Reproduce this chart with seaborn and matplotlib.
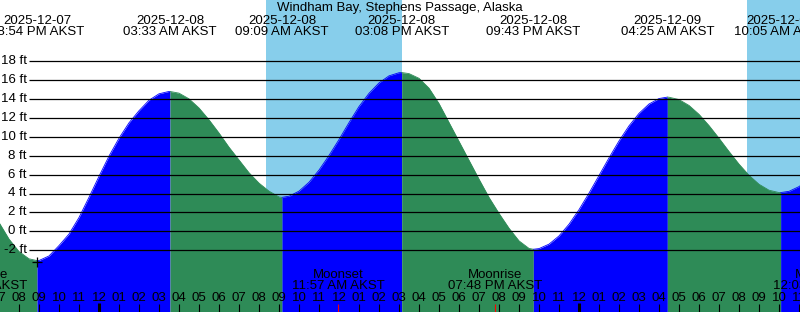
import numpy as np
import pandas as pd
import matplotlib
matplotlib.use("Agg")
import matplotlib.pyplot as plt
import seaborn as sns
from matplotlib.transforms import blended_transform_factory as btf

# ---------------- data (hours since 2025-12-07 00:00 AKST) ----------------
title = "Windham Bay, Stephens Passage, Alaska"

extreme_times = [14.75, 20.9, 27.55, 33.15, 39.133, 45.717, 52.417, 58.083, 64.3]
extreme_heights = [15.5, -3.1, 14.8, 3.6, 16.8, -1.9, 14.2, 4.1, 16.0]
extreme_dates = ["2025-12-07", "2025-12-07", "2025-12-08", "2025-12-08", "2025-12-08",
                 "2025-12-08", "2025-12-09", "2025-12-09", "2025-12-09"]
extreme_clock = ["02:45 PM AKST", "08:54 PM AKST", "03:33 AM AKST", "09:09 AM AKST",
                 "03:08 PM AKST", "09:43 PM AKST", "04:25 AM AKST", "10:05 AM AKST",
                 "04:18 PM AKST"]

# tide height read every half hour from 19:00 (12-07) to 12:00 (12-09)
sample_times = list(np.arange(19.0, 60.01, 0.5))
sample_heights = [
    0.94, -0.82, -2.14, -2.91, -3.09, -2.61, -1.51, -0.29, 1.46, 3.60,
    5.82, 7.96, 9.85, 11.48, 12.76, 13.87, 14.55, 14.80, 14.62, 14.02,
    13.05, 11.80, 10.40, 8.90, 7.55, 6.20, 5.10, 4.25, 3.64, 3.71,
    4.25, 5.19, 6.48, 8.02, 9.71, 11.50, 13.20, 14.60, 15.70, 16.45,
    16.78, 16.69, 16.19, 15.15, 13.52, 11.52, 9.52, 7.52, 5.52, 3.59,
    1.90, 0.33, -1.01, -1.81, -1.83, -1.36, -0.49, 0.75, 2.29, 4.04,
    5.90, 7.77, 9.56, 11.16, 12.48, 13.47, 14.05, 14.19, 13.94, 13.32,
    12.38, 11.19, 9.85, 8.45, 7.11, 5.93, 4.98, 4.35, 4.10, 4.23,
    4.73, 5.56, 6.68]

sunrise_times = [32.35, 56.38]
sunset_times = [39.15, 63.17]

moon_times = [18.08, 35.95, 43.8, 60.05]
moon_names = ["Moonrise", "Moonset", "Moonrise", "Moonset"]
moon_clock = ["06:05 PM AKST", "11:57 AM AKST", "07:48 PM AKST", "12:03 PM AKST"]

grid_levels = [-2, 0, 2, 4, 6, 8, 10, 12, 14, 16, 18]
x_start, x_end = 19.05, 59.05

# ---------------- style ----------------
sns.set_theme(style="white")
plt.rcParams["font.family"] = ["Liberation Sans", "DejaVu Sans"]
FS = 9.5
W, H = 800, 312

fig = plt.figure(figsize=(8, 3.12), dpi=100)
ax = fig.add_axes([0, 0, 1, 1])
ax.set_facecolor("#00BFFF")
y0_px, px_per_ft = 231.3, 9.45
ylims = ((y0_px - H) / px_per_ft, y0_px / px_per_ft)

def fy(py):
    return 1 - py / H

def fx(px):
    return px / W

tx_ax = btf(ax.transData, ax.transAxes)   # x data, y axes
ty_ax = btf(ax.transAxes, ax.transData)   # x axes, y data

# daylight
for a, b in zip(sunrise_times, sunset_times):
    ax.axvspan(a, b, color="#87CEEB", zorder=0, lw=0)

# tide series
df = pd.DataFrame({"t": [float(v) for v in sample_times] + extreme_times,
                   "h": sample_heights + extreme_heights})
df = df.sort_values("t").drop_duplicates("t").reset_index(drop=True)
bottom = ylims[0] - 1
for i in range(len(extreme_times) - 1):
    t0, t1 = extreme_times[i], extreme_times[i + 1]
    rising = extreme_heights[i + 1] > extreme_heights[i]
    col = "#0000FF" if rising else "#2E8B57"
    seg = df[(df.t >= t0) & (df.t <= t1)]
    ax.fill_between(seg.t, seg.h, bottom, color=col, lw=0, zorder=1)
    sns.lineplot(data=seg, x="t", y="h", ax=ax, color=col, lw=0.6,
                 legend=False, zorder=2, sort=True)

ax.set_xlim(x_start, x_end)
ax.set_ylim(*ylims)
ax.set_axis_off()
ax.patch.set_visible(True)

# low-tide mark
ax.plot(extreme_times[1], extreme_heights[1] - 0.15, marker="+", color="black",
        ms=6.5, mew=0.9, zorder=5, ls="none")

# horizontal grid lines + labels
ax.hlines(grid_levels, fx(29), 1, transform=ty_ax, color="black", lw=0.9, zorder=3)
for lv in grid_levels:
    ax.text(fx(26.7), lv, f"{lv} ft", transform=ty_ax, ha="right",
            va="center", fontsize=FS, color="black", zorder=4)

# title
ax.text(0.5, fy(7.5), title, transform=ax.transAxes, ha="center", va="center",
        fontsize=FS, color="black", zorder=4)

# extreme labels
for t, d, c in zip(extreme_times, extreme_dates, extreme_clock):
    if x_start - 3 < t < x_end + 3:
        ax.text(t, fy(20.5), d, transform=tx_ax, ha="center", va="center",
                fontsize=FS, color="black", zorder=4)
        ax.text(t, fy(31.8), c, transform=tx_ax, ha="center", va="center",
                fontsize=FS, color="black", zorder=4)

# moon labels + red ticks
for t, n, c in zip(moon_times, moon_names, moon_clock):
    ax.text(t, fy(274.5), n, transform=tx_ax, ha="center", va="center",
            fontsize=FS, color="black", zorder=4)
    ax.text(t, fy(286), c, transform=tx_ax, ha="center", va="center",
            fontsize=FS, color="black", zorder=4)
ax.vlines(moon_times, fy(312), fy(303.5), transform=tx_ax, color="red",
          lw=0.8, zorder=4)

# hour ticks and labels
for hr in range(18, 61):
    h12 = hr % 12
    h12 = 12 if h12 == 0 else h12
    ax.text(hr, fy(298), f"{h12:02d}", transform=tx_ax, ha="center",
            va="center", fontsize=FS, color="black", zorder=4)
    if hr % 24 == 0:
        ax.vlines(hr, fy(312), fy(303.3), transform=tx_ax, color="black",
                  lw=2.2, zorder=4)
    elif not any(abs(hr - m) < 0.06 for m in moon_times):
        ax.vlines(hr, fy(312), fy(304.3), transform=tx_ax, color="black",
                  lw=0.8, zorder=4)

fig.savefig("out.png", dpi=100)
